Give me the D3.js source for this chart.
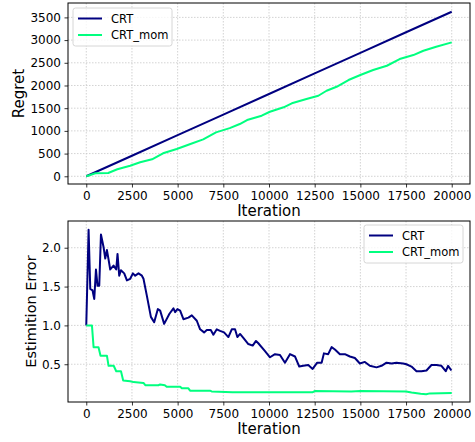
<!DOCTYPE html>
<html><head><meta charset="utf-8">
<script src="https://cdn.jsdelivr.net/npm/d3@7"></script>
<style>body{margin:0;background:#fff}svg{display:block;font-family:"DejaVu Sans",sans-serif}</style>
</head><body><svg id="c" width="475" height="442"></svg>
<script>
const seriesNames = ["CRT", "CRT_mom"];
const seriesColors = ["#000080", "#00ff7f"];

const regretIterCRT = [0,2500,5000,7500,10000,12500,15000,17500,20000];
const regretCRT = [0,453,906,1359,1812,2266,2719,3172,3625];

const regretIterMom = [0,500,1200,1700,2400,2950,3600,4200,4950,5700,6400,7100,7850,8400,8800,9600,10050,10800,11250,12050,12700,13150,13700,14350,15000,15700,16450,17150,17900,18450,19150,20000];
const regretMom = [0,66,73,154,233,308,374,506,601,711,814,968,1060,1151,1239,1334,1422,1519,1607,1702,1774,1884,1972,2120,2230,2340,2435,2582,2670,2765,2853,2950];

const errIterCRT = [0,127,219,344,437,530,617,710,803,945,1038,1131,1219,1311,1492,1639,1710,1803,1896,2077,2224,2404,2552,2677,2858,3044,3131,3317,3536,3716,3918,4044,4262,4552,4771,4863,4989,5137,5317,5590,5776,6049,6230,6448,6596,6814,6956,7142,7322,7541,7776,7962,8142,8268,8415,8596,8869,9107,9290,9415,9781,10055,10328,10601,10874,11148,11421,11656,11874,12148,12388,12639,12880,13005,13240,13426,13607,13880,14153,14426,14699,14973,15246,15519,15883,16158,16432,16705,16978,17340,17520,17798,18071,18344,18618,18891,19164,19437,19672,19800,19983];
const errCRT = [1.00,2.23,1.47,1.45,1.34,1.72,1.51,1.51,2.17,2.01,1.86,1.97,1.85,1.72,1.77,1.72,1.92,1.64,1.71,1.67,1.58,1.60,1.67,1.64,1.67,1.64,1.60,1.38,1.11,1.04,1.21,1.19,1.02,1.15,1.22,1.17,1.21,1.19,1.08,1.10,1.13,1.06,0.95,0.91,0.94,0.94,0.88,0.95,0.93,0.91,0.85,0.95,0.95,0.85,0.89,0.84,0.76,0.74,0.80,0.77,0.67,0.59,0.63,0.62,0.52,0.63,0.60,0.47,0.48,0.49,0.44,0.52,0.52,0.64,0.63,0.72,0.69,0.63,0.63,0.60,0.58,0.51,0.53,0.48,0.46,0.48,0.52,0.51,0.52,0.51,0.50,0.47,0.41,0.41,0.42,0.49,0.49,0.48,0.41,0.48,0.42];

const errIterMom = [0,310,400,670,780,1130,1220,1500,1640,1900,2020,2400,2580,3130,3230,3950,4040,4300,4400,5140,5230,5590,5680,6770,6860,8000,10000,12400,12500,14500,15000,17500,17800,18300,18600,18800,20000];
const errMom = [1.00,1.00,0.72,0.72,0.61,0.61,0.48,0.48,0.41,0.41,0.29,0.28,0.27,0.26,0.23,0.23,0.24,0.23,0.21,0.21,0.19,0.19,0.16,0.16,0.15,0.14,0.14,0.14,0.155,0.15,0.155,0.15,0.135,0.12,0.115,0.125,0.13];

const xTicks = [0,2500,5000,7500,10000,12500,15000,17500,20000];
const regretTicks = [0,500,1000,1500,2000,2500,3000,3500];
const errTicks = [0.5,1.0,1.5,2.0];

const svg = d3.select("#c");
const L = 68, R = 470;

function panel(cfg) {
  const g = svg.append("g");
  const x = d3.scaleLinear().domain([-1000, 21000]).range([L, R]);
  const y = d3.scaleLinear().domain(cfg.yDomain).range([cfg.bottom, cfg.top]);
  // grid
  g.append("g").selectAll("line").data(xTicks).join("line")
    .attr("x1", d => x(d)).attr("x2", d => x(d)).attr("y1", cfg.top).attr("y2", cfg.bottom)
    .attr("stroke", "#c8c8c8").attr("stroke-width", 0.8).attr("stroke-dasharray", "1.5,1.5");
  g.append("g").selectAll("line").data(cfg.yTicks).join("line")
    .attr("y1", d => y(d)).attr("y2", d => y(d)).attr("x1", L).attr("x2", R)
    .attr("stroke", "#c8c8c8").attr("stroke-width", 0.8).attr("stroke-dasharray", "1.5,1.5");
  // lines
  const line = d3.line().x(d => x(d[0])).y(d => y(d[1]));
  cfg.series.forEach((s, i) => {
    g.append("path").datum(d3.zip(s[0], s[1])).attr("d", line)
      .attr("fill", "none").attr("stroke", seriesColors[i]).attr("stroke-width", 2)
      .attr("stroke-linejoin", "round");
  });
  // axes
  const xa = g.append("g").attr("transform", `translate(0,${cfg.bottom})`)
    .call(d3.axisBottom(x).tickValues(xTicks).tickFormat(d3.format("d")).tickSize(3.5).tickPadding(3.5));
  const ya = g.append("g").attr("transform", `translate(${L},0)`)
    .call(d3.axisLeft(y).tickValues(cfg.yTicks).tickFormat(cfg.yFmt).tickSize(3.5).tickPadding(3.5));
  [xa, ya].forEach(a => {
    a.select(".domain").remove();
    a.selectAll("text").attr("font-size", 12).attr("fill", "#000").attr("font-family", "DejaVu Sans");
    a.selectAll("line").attr("stroke", "#000").attr("stroke-width", 0.8);
  });
  g.append("rect").attr("x", L).attr("y", cfg.top).attr("width", R - L).attr("height", cfg.bottom - cfg.top)
    .attr("fill", "none").attr("stroke", "#000").attr("stroke-width", 1);
  // labels
  g.append("text").attr("x", (L + R) / 2).attr("y", cfg.bottom + 32).attr("text-anchor", "middle")
    .attr("font-size", 15).text("Iteration");
  g.append("text").attr("transform", `translate(${cfg.ylx},${(cfg.top + cfg.bottom) / 2}) rotate(-90)`)
    .attr("text-anchor", "middle").attr("font-size", cfg.ylSize).text(cfg.ylabel);
  // legend
  const lg = g.append("g").attr("transform", `translate(${cfg.legX},${cfg.legY})`);
  lg.append("rect").attr("width", 99).attr("height", 38).attr("rx", 2.5)
    .attr("fill", "#fff").attr("fill-opacity", 0.8).attr("stroke", "#cccccc").attr("stroke-width", 0.8);
  seriesNames.forEach((n, i) => {
    lg.append("line").attr("x1", 5).attr("x2", 29).attr("y1", 10.5 + i * 16.5).attr("y2", 10.5 + i * 16.5)
      .attr("stroke", seriesColors[i]).attr("stroke-width", 2);
    lg.append("text").attr("x", 38).attr("y", 14.5 + i * 16.5).attr("font-size", 11.5).text(n);
  });
}

panel({
  top: 3, bottom: 184, yDomain: [-170, 3817], yTicks: regretTicks, yFmt: d3.format("d"),
  series: [[regretIterCRT, regretCRT], [regretIterMom, regretMom]],
  ylabel: "Regret", ylx: 24, ylSize: 15, legX: 73, legY: 8
});
panel({
  top: 221, bottom: 402, yDomain: [0.014, 2.344], yTicks: errTicks, yFmt: d3.format(".1f"),
  series: [[errIterCRT, errCRT], [errIterMom, errMom]],
  ylabel: "Estimition Error", ylx: 36, ylSize: 14.5, legX: 364, legY: 225
});
</script></body></html>
